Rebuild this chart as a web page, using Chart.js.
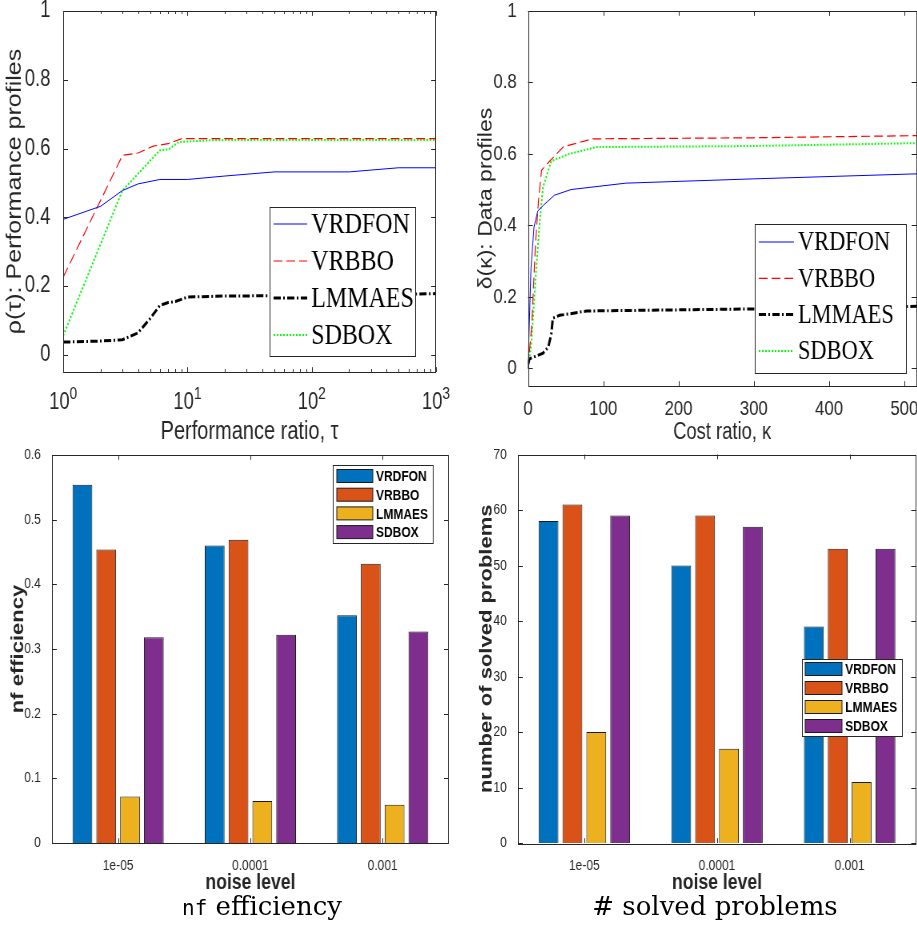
<!DOCTYPE html>
<html>
<head>
<meta charset="utf-8">
<script src="https://cdn.jsdelivr.net/npm/chart.js@4.4.0/dist/chart.umd.min.js"></script>
<style>
  body { margin: 0; background: #fff; width: 917px; height: 929px; position: relative; overflow: hidden; }
  .panel { position: absolute; transform-origin: 0 0; transform: scaleX(0.8); }
  .panel canvas { display: block; }
  .caption { position: absolute; top: 893px; width: 320px; text-align: center; font-family: 'DejaVu Serif', serif; font-size: 26px; line-height: 27px; color: #000; white-space: nowrap; }
  .caption .tt { font-family: 'DejaVu Sans Mono', monospace; font-size: 21px; }
</style>
</head>
<body>
<div class="panel" style="left:0; top:0"><canvas id="perfChart" width="572" height="458"></canvas></div>
<div class="panel" style="left:458px; top:0"><canvas id="dataChart" width="574" height="458"></canvas></div>
<div class="panel" style="left:0; top:440px"><canvas id="nfChart" width="572" height="489"></canvas></div>
<div class="panel" style="left:458px; top:440px"><canvas id="solvedChart" width="574" height="489"></canvas></div>
<div class="caption" style="left:102px"><span class="tt">nf</span> efficiency</div>
<div class="caption" style="left:555px"># solved problems</div>

<script>
const solvers = ['VRDFON', 'VRBBO', 'LMMAES', 'SDBOX'];

// performance profiles: [tau, rho]
const perfVRDFON = [[1, 0.394], [2, 0.432], [3, 0.478], [4, 0.497], [6, 0.51], [10, 0.51], [20, 0.52], [50, 0.532], [200, 0.532], [500, 0.544], [1000, 0.544]];
const perfVRBBO = [[1, 0.226], [3, 0.58], [4, 0.587], [5.3, 0.607], [7, 0.614], [9, 0.629], [1000, 0.629]];
const perfLMMAES = [[1, 0.037], [2, 0.04], [3, 0.044], [4, 0.064], [5, 0.105], [6, 0.144], [7, 0.152], [8, 0.155], [10, 0.168], [20, 0.171], [200, 0.173], [1000, 0.178]];
const perfSDBOX = [[1, 0.056], [3, 0.478], [6, 0.595], [7, 0.597], [8.5, 0.619], [17, 0.625], [1000, 0.625]];

// data profiles: [kappa, delta]
const dataVRDFON = [[0, 0], [4, 0.28], [8, 0.395], [13, 0.44], [20, 0.455], [35, 0.484], [57, 0.5], [130, 0.518], [300, 0.53], [516, 0.544]];
const dataVRBBO = [[0, 0], [5, 0.12], [10, 0.35], [14, 0.47], [18, 0.554], [29, 0.58], [47, 0.62], [86, 0.642], [300, 0.645], [516, 0.651]];
const dataLMMAES = [[0, 0.01], [2, 0.026], [20, 0.042], [27, 0.059], [31, 0.096], [33, 0.14], [42, 0.148], [55, 0.152], [78, 0.16], [308, 0.166], [516, 0.173]];
const dataSDBOX = [[0, 0], [4.4, 0.068], [11, 0.28], [15.5, 0.41], [20, 0.507], [31, 0.58], [55, 0.6], [91, 0.619], [300, 0.622], [516, 0.63]];

// bar charts
const noiseLevels = ['1e-05', '0.0001', '0.001'];
const nfVRDFON = [0.554, 0.460, 0.352];
const nfVRBBO = [0.454, 0.469, 0.432];
const nfLMMAES = [0.072, 0.065, 0.059];
const nfSDBOX = [0.318, 0.322, 0.327];
const solvedVRDFON = [58, 50, 39];
const solvedVRBBO = [61, 59, 53];
const solvedLMMAES = [20, 17, 11];
const solvedSDBOX = [59, 57, 53];

// tick labels
const profileTicks = [0, 0.2, 0.4, 0.6, 0.8, 1];
const tauMajor = [1, 10, 100, 1000];
const costTicks = [0, 100, 200, 300, 400, 500];

const AXIS = '#262626';
const SANS = "'Liberation Sans', Arial, sans-serif";

const tauTicks = [];
tauMajor.slice(0, -1).forEach(d => { for (let k = 1; k < 10; k++) tauTicks.push(k * d); });
tauTicks.push(1000);

const lineStyles = [
    { borderColor: '#0000ff', borderWidth: 1, borderDash: [] },
    { borderColor: '#ff0000', borderWidth: 1.2, borderDash: [11, 5] },
    { borderColor: '#000000', borderWidth: 3, borderDash: [9, 3, 2, 3] },
    { borderColor: '#00ff00', borderWidth: 2, borderDash: [2, 2] }
];
const barColors = ['#0072BD', '#D95319', '#EDB120', '#7E2F8E'];

function lineDatasets(series) {
    return series.map((pts, i) => Object.assign({
        label: solvers[i],
        data: pts.map(p => ({ x: p[0], y: p[1] })),
        pointRadius: 0,
        fill: false,
        tension: 0
    }, lineStyles[i]));
}

function barDatasets(series) {
    return series.map((vals, i) => ({
        label: solvers[i],
        data: vals,
        backgroundColor: barColors[i],
        borderColor: '#1a1a1a',
        borderWidth: 1,
        categoryPercentage: 0.72,
        barPercentage: 0.83
    }));
}

function fixSize(prop, size) {
    return scale => {
        scale[prop] = size;
        scale.paddingTop = 0;
        scale.paddingBottom = 0;
        scale.paddingLeft = 0;
        scale.paddingRight = 0;
    };
}

// MATLAB-like box with inward ticks on all four sides
const matlabFrame = {
    id: 'matlabFrame',
    afterDraw(chart, args, opts) {
        const { ctx, chartArea: a, scales } = chart;
        const xs = scales.x, ys = scales.y;
        const len = opts.tickLen || 6;
        ctx.save();
        ctx.strokeStyle = AXIS;
        ctx.lineWidth = 1;
        ctx.beginPath();
        ys.ticks.forEach(t => {
            const py = Math.round(ys.getPixelForValue(t.value)) + 0.5;
            ctx.moveTo(a.left, py); ctx.lineTo(a.left + len, py);
            ctx.moveTo(a.right, py); ctx.lineTo(a.right - len, py);
        });
        xs.ticks.forEach((t, i) => {
            const px = Math.round(xs.type === 'category' ? xs.getPixelForTick(i) : xs.getPixelForValue(t.value)) + 0.5;
            const l = (xs.type === 'logarithmic' && !t.major) ? len * 0.5 : len * 0.8;
            ctx.moveTo(px, a.bottom); ctx.lineTo(px, a.bottom - l);
            ctx.moveTo(px, a.top); ctx.lineTo(px, a.top + l);
        });
        ctx.stroke();
        ctx.strokeRect(Math.round(a.left) + 0.5, Math.round(a.top) + 0.5, Math.round(a.width) - 1, Math.round(a.height));

        if (opts.logLabels) {
            const o = opts.logLabels;
            ctx.fillStyle = AXIS;
            ctx.textBaseline = 'alphabetic';
            xs.ticks.filter(t => t.major).forEach(t => {
                const px = xs.getPixelForValue(t.value);
                const exp = String(Math.round(Math.log10(t.value)));
                ctx.font = o.size + 'px ' + SANS;
                const wb = ctx.measureText('10').width;
                ctx.font = o.expSize + 'px ' + SANS;
                const we = ctx.measureText(exp).width;
                const x0 = px - (wb + we) / 2;
                ctx.font = o.size + 'px ' + SANS;
                ctx.fillText('10', x0, o.baseY);
                ctx.font = o.expSize + 'px ' + SANS;
                ctx.fillText(exp, x0 + wb, o.expY);
            });
        }
        ctx.restore();
    }
};

// boxed legend placed inside the axes
const boxLegend = {
    id: 'boxLegend',
    afterDraw(chart, args, o) {
        const ctx = chart.ctx;
        ctx.save();
        ctx.fillStyle = '#fff';
        ctx.fillRect(o.x, o.y, o.w, o.h);
        ctx.strokeStyle = AXIS;
        ctx.lineWidth = 1;
        ctx.strokeRect(o.x + 0.5, o.y + 0.5, o.w, o.h);
        chart.data.datasets.forEach((ds, i) => {
            const cy = o.y + o.first + i * o.row;
            if (o.kind === 'line') {
                ctx.strokeStyle = ds.borderColor;
                ctx.lineWidth = ds.borderWidth;
                ctx.setLineDash(ds.borderDash || []);
                ctx.beginPath();
                ctx.moveTo(o.sx0, cy);
                ctx.lineTo(o.sx1, cy);
                ctx.stroke();
                ctx.setLineDash([]);
            } else {
                ctx.fillStyle = ds.backgroundColor;
                ctx.fillRect(o.sx0, cy - o.sh / 2, o.sx1 - o.sx0, o.sh);
                ctx.strokeStyle = '#1a1a1a';
                ctx.lineWidth = 1;
                ctx.strokeRect(o.sx0, cy - o.sh / 2, o.sx1 - o.sx0, o.sh);
            }
            ctx.fillStyle = '#000';
            ctx.font = o.font;
            ctx.textBaseline = 'middle';
            ctx.fillText(ds.label, o.tx, cy + 1);
        });
        ctx.restore();
    }
};

function axisTitle(text, size, bold) {
    return {
        display: true,
        text: text,
        color: AXIS,
        padding: 0,
        font: { family: SANS, size: size, lineHeight: 1, weight: bold ? 'bold' : 'normal' }
    };
}

const baseOptions = {
    responsive: false,
    maintainAspectRatio: false,
    devicePixelRatio: 1,
    animation: false,
    events: []
};

new Chart(document.getElementById('perfChart'), {
    type: 'line',
    data: { datasets: lineDatasets([perfVRDFON, perfVRBBO, perfLMMAES, perfSDBOX]) },
    plugins: [matlabFrame, boxLegend],
    options: Object.assign({}, baseOptions, {
        layout: { padding: { left: 6.5, right: 27, top: 11, bottom: 13 } },
        scales: {
            x: {
                type: 'logarithmic', min: 1, max: 1000,
                afterBuildTicks: s => { s.ticks = tauTicks.map(v => ({ value: v, major: tauMajor.includes(v) })); },
                afterFit: fixSize('height', 73),
                grid: { display: false }, border: { display: false },
                ticks: { display: false },
                title: axisTitle('Performance ratio, τ', 25)
            },
            y: {
                min: -0.05, max: 1,
                afterBuildTicks: s => { s.ticks = profileTicks.map(v => ({ value: v })); },
                afterFit: fixSize('width', 72.5),
                grid: { display: false }, border: { display: false },
                ticks: { color: AXIS, padding: 8, font: { family: SANS, size: 23 }, callback: v => String(v) },
                title: axisTitle('ρ(τ): Performance profiles', 25)
            }
        },
        plugins: {
            legend: { display: false },
            tooltip: { enabled: false },
            matlabFrame: { tickLen: 6, logLabels: { size: 23, expSize: 17, baseY: 409, expY: 399 } },
            boxLegend: { kind: 'line', x: 337, y: 207, w: 182, h: 149, first: 17, row: 37, sx0: 342, sx1: 384, tx: 389, font: "30px 'Liberation Serif', serif" }
        }
    })
});

new Chart(document.getElementById('dataChart'), {
    type: 'line',
    data: { datasets: lineDatasets([dataVRDFON, dataVRBBO, dataLMMAES, dataSDBOX]) },
    plugins: [matlabFrame, boxLegend],
    options: Object.assign({}, baseOptions, {
        layout: { padding: { left: 24.5, right: 1, top: 11, bottom: 13.5 } },
        scales: {
            x: {
                type: 'linear', min: 0, max: 516,
                afterBuildTicks: s => { s.ticks = costTicks.map(v => ({ value: v })); },
                afterFit: fixSize('height', 58.5),
                grid: { display: false }, border: { display: false },
                ticks: { color: AXIS, padding: 3, autoSkip: false, maxRotation: 0, font: { family: SANS, size: 21 } },
                title: axisTitle('Cost ratio, κ', 23)
            },
            y: {
                min: -0.05, max: 1,
                afterBuildTicks: s => { s.ticks = profileTicks.map(v => ({ value: v })); },
                afterFit: fixSize('width', 63),
                grid: { display: false }, border: { display: false },
                ticks: { color: AXIS, padding: 6, font: { family: SANS, size: 21 }, callback: v => String(v) },
                title: axisTitle('δ(κ): Data profiles', 23)
            }
        },
        plugins: {
            legend: { display: false },
            tooltip: { enabled: false },
            matlabFrame: { tickLen: 6 },
            boxLegend: { kind: 'line', x: 371, y: 224, w: 189, h: 149, first: 18, row: 36.3, sx0: 376, sx1: 420, tx: 425, font: "28px 'Liberation Serif', serif" }
        }
    })
});

function barOptions(pad, yWidth, yMax, yStep, yTitle, legend) {
    return Object.assign({}, baseOptions, {
        layout: { padding: pad },
        scales: {
            x: {
                afterFit: fixSize('height', 51),
                grid: { display: false }, border: { display: false },
                ticks: { color: AXIS, padding: 6, maxRotation: 0, font: { family: SANS, size: 15 } },
                title: axisTitle('noise level', 22, true)
            },
            y: {
                min: 0, max: yMax,
                afterFit: fixSize('width', yWidth),
                grid: { display: false }, border: { display: false },
                ticks: { color: AXIS, padding: 6, stepSize: yStep, font: { family: SANS, size: 15 } },
                title: axisTitle(yTitle, 22, true)
            }
        },
        plugins: {
            legend: { display: false },
            tooltip: { enabled: false },
            matlabFrame: { tickLen: 6 },
            boxLegend: legend
        }
    });
}

new Chart(document.getElementById('nfChart'), {
    type: 'bar',
    data: { labels: noiseLevels, datasets: barDatasets([nfVRDFON, nfVRBBO, nfLMMAES, nfSDBOX]) },
    plugins: [matlabFrame, boxLegend],
    options: barOptions({ left: 11.5, right: 11, top: 15, bottom: 35 }, 53.5, 0.6, 0.1, 'nf efficiency',
        { kind: 'box', x: 416, y: 25, w: 125, h: 78, first: 11, row: 18.7, sx0: 421, sx1: 466, sh: 13, tx: 470, font: "bold 15px 'Liberation Sans', Arial, sans-serif" })
});

new Chart(document.getElementById('solvedChart'), {
    type: 'bar',
    data: { labels: noiseLevels, datasets: barDatasets([solvedVRDFON, solvedVRBBO, solvedLMMAES, solvedSDBOX]) },
    plugins: [matlabFrame, boxLegend],
    options: barOptions({ left: 25, right: 1.5, top: 14.5, bottom: 35 }, 50, 70, 10, 'number of solved problems',
        { kind: 'box', x: 430, y: 219, w: 125, h: 77, first: 10, row: 19, sx0: 434, sx1: 480, sh: 13, tx: 484, font: "bold 15px 'Liberation Sans', Arial, sans-serif" })
});
</script>
</body>
</html>
